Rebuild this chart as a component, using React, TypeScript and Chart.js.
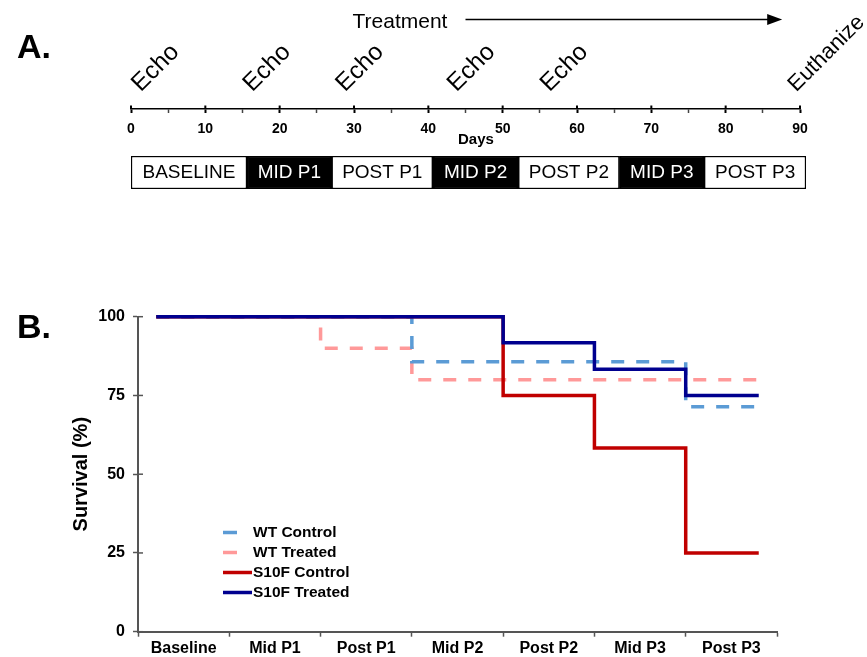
import React, { useEffect, useRef } from "react";
import { Chart, registerables } from "chart.js";

Chart.register(...registerables);

const FONT = 'Arial, "Liberation Sans", Helvetica, sans-serif';

// ---------------- Panel A: study timeline ----------------
const dayMin = 0;
const dayMax = 90;
const dayTickValues = [0, 5, 10, 15, 20, 25, 30, 35, 40, 45, 50, 55, 60, 65, 70, 75, 80, 85, 90];
const dayLabelEvery = 10;
const echoDays = [1.3, 16.3, 28.8, 43.8, 56.3];
const echoText = "Echo";
const euthanizeDays = [89.5];
const euthanizeText = "Euthanize";
const treatmentText = "Treatment";
const treatmentTextDay = 29.8;
const treatmentArrowDays = [45, 87.6];
const daysTitle = "Days";
const daysTitleDay = 46.4;

const phaseLabels = ["BASELINE", "MID P1", "POST P1", "MID P2", "POST P2", "MID P3", "POST P3"];
const phaseStartDays = [0, 15.6, 27.0, 40.6, 52.1, 65.7, 77.1];
const phaseEndDays = [15.6, 27.0, 40.6, 52.1, 65.7, 77.1, 90.8];
const phaseIsDark = [false, true, false, true, false, true, false];

// ---------------- Panel B: survival ----------------
const categories = ["Baseline", "Mid P1", "Post P1", "Mid P2", "Post P2", "Mid P3", "Post P3"];
const survivalTicks = [0, 25, 50, 75, 100];
const wtControlTime = [0.2, 3, 6, 6.8];
const wtControlSurvival = [100, 85.7, 71.4, 71.4];
const wtTreatedTime = [0.2, 2, 3, 6.8];
const wtTreatedSurvival = [100, 90, 80, 80];
const s10fControlTime = [0.2, 4, 5, 6, 6.8];
const s10fControlSurvival = [100, 75, 58.3, 25, 25];
const s10fTreatedTime = [0.2, 4, 5, 6, 6.8];
const s10fTreatedSurvival = [100, 91.7, 83.3, 75, 75];
const legendOrder = ["WT Control", "WT Treated", "S10F Control", "S10F Treated"];

const timelinePlugin = {
  id: "timelineDecor",
  afterDraw(chart: any) {
    const { ctx, chartArea } = chart;
    const xs = chart.scales.x;
    const axisY = chartArea.bottom;
    ctx.save();
    ctx.strokeStyle = "#000";
    ctx.fillStyle = "#000";
    ctx.lineWidth = 2;
    dayTickValues
      .filter((v) => v % dayLabelEvery === 0)
      .forEach((v) => {
        const x = xs.getPixelForValue(v);
        ctx.beginPath();
        ctx.moveTo(x, axisY - 3.5);
        ctx.lineTo(x, axisY);
        ctx.stroke();
      });
    ctx.font = `24.5px ${FONT}`;
    ctx.textAlign = "left";
    ctx.textBaseline = "alphabetic";
    const drawRot = (text: string, day: number) => {
      const x = xs.getPixelForValue(day);
      ctx.save();
      ctx.translate(x, axisY - 16.5);
      ctx.rotate(-Math.PI / 4);
      ctx.fillText(text, 0, 0);
      ctx.restore();
    };
    echoDays.forEach((d) => drawRot(echoText, d));
    ctx.font = `22px ${FONT}`;
    euthanizeDays.forEach((d) => drawRot(euthanizeText, d));

    ctx.font = `21px ${FONT}`;
    ctx.fillText(treatmentText, xs.getPixelForValue(treatmentTextDay), 28);
    const ax0 = xs.getPixelForValue(treatmentArrowDays[0]);
    const ax1 = xs.getPixelForValue(treatmentArrowDays[1]);
    const ay = 19.5;
    ctx.lineWidth = 1.5;
    ctx.beginPath();
    ctx.moveTo(ax0, ay);
    ctx.lineTo(ax1 - 12, ay);
    ctx.stroke();
    ctx.beginPath();
    ctx.moveTo(ax1, ay);
    ctx.lineTo(ax1 - 15, ay - 5.5);
    ctx.lineTo(ax1 - 15, ay + 5.5);
    ctx.closePath();
    ctx.fill();

    ctx.font = `bold 15px ${FONT}`;
    ctx.textAlign = "center";
    ctx.fillText(daysTitle, xs.getPixelForValue(daysTitleDay), 144);
    ctx.restore();
  },
};

const phaseTextPlugin = {
  id: "phaseText",
  afterDatasetsDraw(chart: any) {
    const { ctx } = chart;
    const meta = chart.getDatasetMeta(0);
    ctx.save();
    ctx.font = `19px ${FONT}`;
    ctx.textAlign = "center";
    ctx.textBaseline = "middle";
    meta.data.forEach((el: any, i: number) => {
      const { x, base, y } = el.getProps(["x", "base", "y"], true);
      ctx.fillStyle = phaseIsDark[i] ? "#fff" : "#000";
      ctx.fillText(phaseLabels[i], (x + base) / 2, y + 0.5);
    });
    ctx.restore();
  },
};

const innerTicksPlugin = {
  id: "innerTicks",
  afterDraw(chart: any) {
    const { ctx, chartArea } = chart;
    const ys = chart.scales.y;
    ctx.save();
    ctx.strokeStyle = "#555";
    ctx.lineWidth = 1.5;
    survivalTicks.forEach((v) => {
      const y = ys.getPixelForValue(v);
      ctx.beginPath();
      ctx.moveTo(chartArea.left, y);
      ctx.lineTo(chartArea.left + 5, y);
      ctx.stroke();
    });
    ctx.restore();
  },
};

const legendPlugin = {
  id: "survivalLegend",
  afterDatasetsDraw(chart: any) {
    const { ctx, chartArea } = chart;
    const x0 = chartArea.left + 85;
    const y0 = chartArea.bottom - 99.2;
    const rowH = 20;
    ctx.save();
    ctx.font = `bold 15.5px ${FONT}`;
    ctx.textBaseline = "middle";
    ctx.textAlign = "left";
    legendOrder.forEach((name, i) => {
      const ds = chart.data.datasets.find((d: any) => d.label === name);
      if (!ds) return;
      const y = y0 + i * rowH;
      const dashed = ds.borderDash && ds.borderDash.length > 0;
      ctx.strokeStyle = ds.borderColor;
      ctx.lineWidth = ds.borderWidth;
      ctx.beginPath();
      ctx.moveTo(x0, y);
      ctx.lineTo(x0 + (dashed ? ds.borderDash[0] + 1 : 29), y);
      ctx.stroke();
      ctx.fillStyle = "#000";
      ctx.fillText(name, x0 + 30, y + 0.5);
    });
    ctx.restore();
  },
};

const makeSeries = (label: string, times: number[], values: number[], color: string, dash: number[]) => ({
  label,
  data: times.map((t, i) => ({ x: t, y: values[i] })),
  borderColor: color,
  backgroundColor: color,
  borderWidth: 3.5,
  borderDash: dash,
  stepped: "before" as const,
  pointRadius: 0,
  pointHoverRadius: 0,
  fill: false,
  clip: false as const,
  borderCapStyle: "butt" as const,
  borderJoinStyle: "miter" as const,
});

export default function App() {
  const timelineRef = useRef<HTMLCanvasElement>(null);
  const phaseRef = useRef<HTMLCanvasElement>(null);
  const survivalRef = useRef<HTMLCanvasElement>(null);

  useEffect(() => {
    const charts: Chart[] = [];
    if (timelineRef.current) {
      charts.push(
        new Chart(timelineRef.current, {
          type: "scatter",
          data: { datasets: [{ data: [] }] },
          options: {
            responsive: false,
            animation: false,
            layout: { padding: { left: 131, right: 67, top: 0, bottom: 0 } },
            plugins: { legend: { display: false }, tooltip: { enabled: false } },
            scales: {
              x: {
                type: "linear",
                min: dayMin,
                max: dayMax,
                afterBuildTicks: (s: any) => {
                  s.ticks = dayTickValues.map((v) => ({ value: v }));
                },
                afterFit: (s: any) => {
                  s.height = 41;
                },
                ticks: {
                  callback: (v: any) => (Number(v) % dayLabelEvery === 0 ? String(v) : ""),
                  font: { family: FONT, size: 14, weight: "bold" },
                  color: "#000",
                  padding: 7.5,
                  maxRotation: 0,
                  autoSkip: false,
                },
                grid: {
                  drawOnChartArea: false,
                  drawTicks: true,
                  tickLength: 4,
                  color: "#000",
                  tickColor: (ctx: any) =>
                    ctx.tick && ctx.tick.value % dayLabelEvery === 0 ? "#000" : "#444",
                  tickWidth: (ctx: any) => (ctx.tick && ctx.tick.value % dayLabelEvery === 0 ? 2 : 1.5),
                },
                border: { color: "#000", width: 1.5 },
              },
              y: { display: false, min: 0, max: 1 },
            },
          } as any,
          plugins: [timelinePlugin],
        })
      );
    }
    if (phaseRef.current) {
      charts.push(
        new Chart(phaseRef.current, {
          type: "bar",
          data: {
            labels: ["phases"],
            datasets: [
              {
                data: phaseStartDays.map((s, i) => ({ x: [s, phaseEndDays[i]], y: "phases" })) as any,
                backgroundColor: phaseIsDark.map((d) => (d ? "#000" : "#fff")),
                borderColor: "#000",
                borderWidth: 1.5,
                borderSkipped: false,
                barPercentage: 1,
                categoryPercentage: 1,
              },
            ],
          },
          options: {
            indexAxis: "y",
            responsive: false,
            animation: false,
            layout: { padding: { left: 131, right: 61, top: 6, bottom: 6 } },
            plugins: { legend: { display: false }, tooltip: { enabled: false } },
            scales: {
              x: { type: "linear", display: false, min: dayMin, max: phaseEndDays[phaseEndDays.length - 1] },
              y: { type: "category", display: false },
            },
          } as any,
          plugins: [phaseTextPlugin],
        })
      );
    }
    if (survivalRef.current) {
      charts.push(
        new Chart(survivalRef.current, {
          type: "line",
          data: {
            datasets: [
              makeSeries("S10F Treated", s10fTreatedTime, s10fTreatedSurvival, "#00008F", []),
              makeSeries("S10F Control", s10fControlTime, s10fControlSurvival, "#C00000", []),
              makeSeries("WT Control", wtControlTime, wtControlSurvival, "#5B9BD5", [13, 12]),
              makeSeries("WT Treated", wtTreatedTime, wtTreatedSurvival, "#FF9999", [13, 12]),
            ],
          },
          options: {
            responsive: false,
            animation: false,
            layout: { padding: { left: 0, right: 90, top: 26.7, bottom: 0 } },
            plugins: { legend: { display: false }, tooltip: { enabled: false } },
            scales: {
              x: {
                type: "linear",
                min: 0,
                max: categories.length,
                afterBuildTicks: (s: any) => {
                  const t: any[] = [];
                  for (let i = 0; i <= categories.length * 2; i++) t.push({ value: i / 2 });
                  s.ticks = t;
                },
                afterFit: (s: any) => {
                  s.height = 25.3;
                },
                ticks: {
                  callback: (v: any) => {
                    const n = Number(v);
                    return n % 1 === 0.5 ? categories[Math.floor(n)] : "";
                  },
                  font: { family: FONT, size: 16, weight: "bold" },
                  color: "#000",
                  padding: 2.5,
                  maxRotation: 0,
                  minRotation: 0,
                  autoSkip: false,
                },
                grid: {
                  drawOnChartArea: false,
                  tickLength: 5,
                  color: "#555",
                  tickWidth: 1.5,
                  tickColor: (ctx: any) =>
                    ctx.tick && Number.isInteger(ctx.tick.value) ? "#555" : "rgba(0,0,0,0)",
                },
                border: { color: "#555", width: 2 },
              },
              y: {
                type: "linear",
                min: 0,
                max: 100,
                afterBuildTicks: (s: any) => {
                  s.ticks = survivalTicks.map((v) => ({ value: v }));
                },
                afterFit: (s: any) => {
                  s.width = 138;
                },
                ticks: {
                  font: { family: FONT, size: 16, weight: "bold" },
                  color: "#000",
                  padding: 8,
                },
                grid: { drawOnChartArea: false, tickLength: 5, color: "#555", tickWidth: 1.5 },
                border: { color: "#555", width: 2 },
                title: {
                  display: true,
                  text: "Survival (%)",
                  font: { family: FONT, size: 20, weight: "bold" },
                  color: "#000",
                  padding: { top: 69, bottom: 0 },
                },
              },
            },
          } as any,
          plugins: [innerTicksPlugin, legendPlugin],
        })
      );
    }
    return () => charts.forEach((c) => c.destroy());
  }, []);

  const panelLabel: React.CSSProperties = {
    position: "absolute",
    left: 17,
    fontFamily: FONT,
    fontWeight: "bold",
    fontSize: 34,
    lineHeight: "34px",
    color: "#000",
    margin: 0,
  };

  return (
    <div
      style={{
        position: "absolute",
        left: 0,
        top: 0,
        width: 867,
        height: 657,
        background: "#fff",
        overflow: "hidden",
      }}
    >
      <canvas
        ref={timelineRef}
        width={867}
        height={150}
        style={{ position: "absolute", left: 0, top: 0, width: 867, height: 150, display: "block" }}
      />
      <canvas
        ref={phaseRef}
        width={867}
        height={45}
        style={{ position: "absolute", left: 0, top: 150, width: 867, height: 45, display: "block" }}
      />
      <canvas
        ref={survivalRef}
        width={867}
        height={367}
        style={{ position: "absolute", left: 0, top: 290, width: 867, height: 367, display: "block" }}
      />
      <div style={{ ...panelLabel, top: 29 }}>A.</div>
      <div style={{ ...panelLabel, top: 309 }}>B.</div>
    </div>
  );
}
